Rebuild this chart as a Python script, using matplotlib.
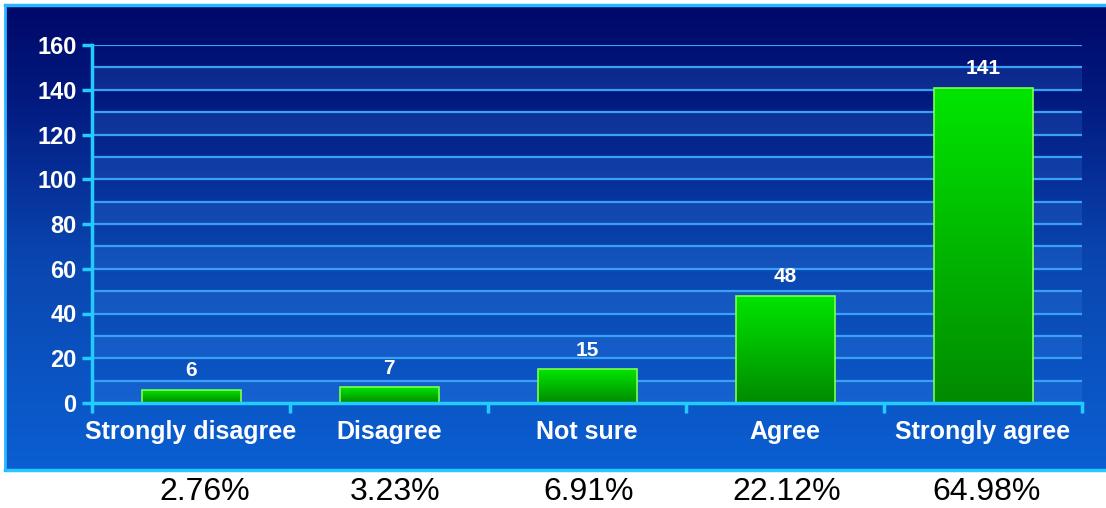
import numpy as np
import matplotlib.pyplot as plt
import matplotlib.transforms as mtransforms
from matplotlib.colors import LinearSegmentedColormap

plt.rcParams['font.family'] = ['Liberation Sans', 'DejaVu Sans']

categories = ['Strongly disagree', 'Disagree', 'Not sure', 'Agree', 'Strongly agree']
counts = [6, 7, 15, 48, 141]
percents = ['2.76%', '3.23%', '6.91%', '22.12%', '64.98%']

fig = plt.figure(figsize=(11.06, 5.08), dpi=100)

# blue gradient panel behind the chart
bg = fig.add_axes([0, 0, 1, 1], zorder=0)
bg.set_xlim(0, 1)
bg.set_ylim(0, 1)
bg.axis('off')
panel_cmap = LinearSegmentedColormap.from_list(
    'panel', [(0, '#0b5fd2'), (0.45, '#0a46b0'), (0.8, '#021a80'), (1, '#000868')])
grad = np.linspace(0, 1, 256).reshape(-1, 1)
y0, y1 = 38 / 508, 503 / 508
bg.imshow(grad, extent=[5 / 1106, 1, y0, y1], origin='lower', aspect='auto', cmap=panel_cmap)
bg.plot([5 / 1106, 1], [y1, y1], color='#29b6ff', lw=2.5)
bg.plot([5 / 1106, 1], [y0, y0], color='#29c8ff', lw=2.5)
bg.plot([5 / 1106, 5 / 1106], [y0, y1], color='#29b6ff', lw=2)

ax = fig.add_axes([92 / 1106, 105 / 508, 990 / 1106, 358 / 508], zorder=1)
ax.patch.set_alpha(0)
x = np.arange(len(categories))
ax.set_xlim(-0.5, len(categories) - 0.5)
ax.set_ylim(0, 160)

# alternating light bands and grid lines
for lo in range(0, 160, 20):
    ax.axhspan(lo, lo + 10, color='#4a9cff', alpha=0.16, lw=0, zorder=0)
for gy in range(10, 161, 10):
    ax.axhline(gy, color='#3aa0f5', lw=1.6, zorder=1)

bar_cmap = LinearSegmentedColormap.from_list('bar', ['#008a00', '#00e600'])
bars = ax.bar(x, counts, width=0.5, color='none', edgecolor='#7dff4d', lw=1.2, zorder=3)
for b, v in zip(bars, counts):
    bx, bw, bh = b.get_x(), b.get_width(), b.get_height()
    im = ax.imshow(grad, extent=[bx, bx + bw, 0, bh], origin='lower', aspect='auto',
                   cmap=bar_cmap, zorder=2)
    im.set_clip_path(b)
    ax.annotate(str(v), (bx + bw / 2, bh), xytext=(0, 7), textcoords='offset points',
                ha='center', va='bottom', color='white', fontsize=15, fontweight='bold')

for s in ['top', 'right']:
    ax.spines[s].set_visible(False)
for s in ['left', 'bottom']:
    ax.spines[s].set_color('#22ccff')
    ax.spines[s].set_linewidth(2.5)
    ax.spines[s].set_zorder(4)

ax.set_yticks(range(0, 161, 20))
ax.tick_params(axis='y', colors='#22ccff', length=7, width=2.5, pad=4,
               labelcolor='white', labelsize=17)
for t in ax.get_yticklabels():
    t.set_fontweight('bold')

ax.set_xticks(x)
ax.set_xticklabels(categories, color='white', fontsize=18, fontweight='bold')
ax.tick_params(axis='x', length=0, pad=12)
ax.set_xticks(np.arange(-0.5, len(categories), 1), minor=True)
ax.tick_params(axis='x', which='minor', colors='#22ccff', length=7, width=2.5)

# percentages under the panel
trans = mtransforms.blended_transform_factory(ax.transData, fig.transFigure)
for xi, p, dx in zip(x, percents, [0.07, 0.03, 0.01, 0.01, 0.02]):
    fig.text(xi + dx, 16 / 508, p, transform=trans, ha='center', va='center',
             fontsize=23, color='black')

fig.savefig('out.png', dpi=100)
